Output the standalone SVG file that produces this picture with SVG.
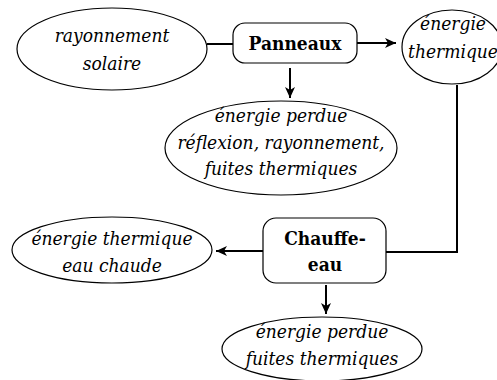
<svg xmlns="http://www.w3.org/2000/svg" width="497" height="380" viewBox="0 0 497 380">
<defs>
<marker id="ah" markerWidth="12" markerHeight="10" refX="11" refY="5" orient="auto" markerUnits="userSpaceOnUse">
<path d="M0,0 L11,5 L0,10 L3,5 Z" fill="#000"/>
</marker>
</defs>
<style>
.e{fill:#fff;stroke:#000;stroke-width:1.2}
.b{fill:#fff;stroke:#000;stroke-width:1.2}
.t{font-family:'DejaVu Serif Condensed','DejaVu Serif',serif;font-stretch:condensed;font-style:italic;font-size:19px;text-anchor:middle;fill:#000}
.tb{font-family:'DejaVu Serif Condensed','DejaVu Serif',serif;font-stretch:condensed;font-weight:bold;font-size:19px;text-anchor:middle;fill:#000}
.c{fill:none;stroke:#000;stroke-width:2}
</style>
<rect width="497" height="380" fill="#fff"/>
<g id="connectors">
<line class="c" x1="207" y1="44" x2="233" y2="44"/>
<line class="c" x1="357" y1="43" x2="396" y2="43" marker-end="url(#ah)"/>
<line class="c" x1="290" y1="68" x2="290" y2="98" marker-end="url(#ah)"/>
<polyline class="c" points="457,85 457,252 386,252"/>
<line class="c" x1="263" y1="251" x2="216" y2="251" marker-end="url(#ah)"/>
<line class="c" x1="326" y1="285" x2="326" y2="314" marker-end="url(#ah)"/>
</g>
<g id="rayonnement">
<ellipse class="e" cx="112" cy="49" rx="95" ry="41"/>
<text class="t" x="112" y="42">rayonnement</text>
<text class="t" x="112" y="70">solaire</text>
</g>
<g id="panneaux">
<rect class="b" x="233" y="23" width="124" height="40" rx="12"/>
<text class="tb" x="295" y="50">Panneaux</text>
</g>
<g id="energie-thermique">
<ellipse class="e" cx="452" cy="47" rx="50" ry="37"/>
<text class="t" x="453" y="30">énergie</text>
<text class="t" x="453" y="58">thermique</text>
</g>
<g id="perdue1">
<ellipse class="e" cx="281" cy="148" rx="116" ry="47"/>
<text class="t" x="281" y="122">énergie perdue</text>
<text class="t" x="281" y="149">réflexion, rayonnement,</text>
<text class="t" x="281" y="175">fuites thermiques</text>
</g>
<g id="chauffe-eau">
<rect class="b" x="263" y="218" width="123" height="65" rx="13"/>
<text class="tb" x="325" y="245">Chauffe-</text>
<text class="tb" x="325" y="271">eau</text>
</g>
<g id="eau-chaude">
<ellipse class="e" cx="112" cy="250" rx="100" ry="33"/>
<text class="t" x="112" y="245">énergie thermique</text>
<text class="t" x="112" y="272">eau chaude</text>
</g>
<g id="perdue2">
<ellipse class="e" cx="322" cy="349" rx="100" ry="32"/>
<text class="t" x="322" y="338">énergie perdue</text>
<text class="t" x="322" y="365">fuites thermiques</text>
</g>
</svg>
